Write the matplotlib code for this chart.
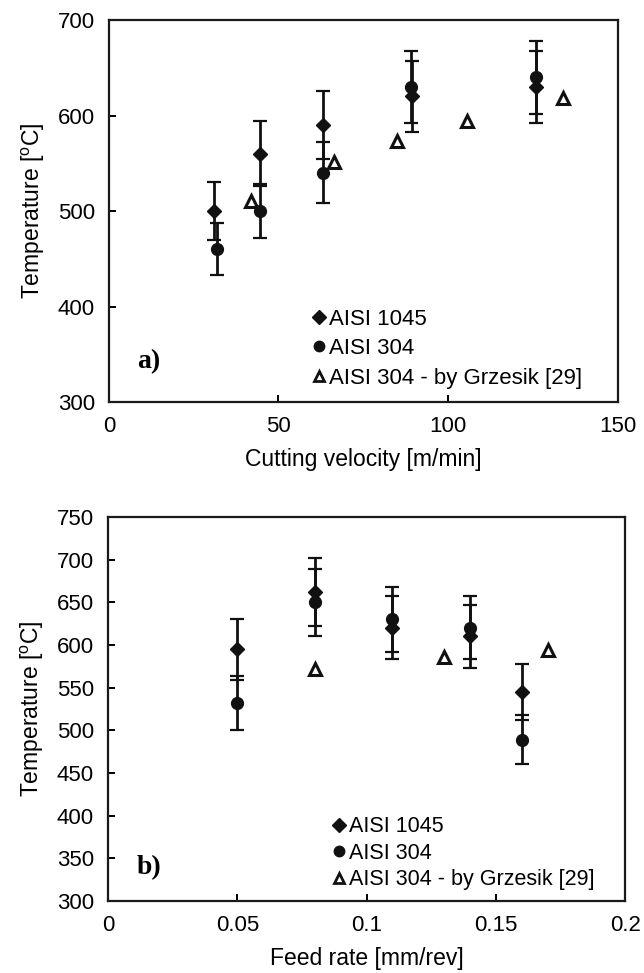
"""Cutting temperature vs cutting velocity (a) and feed rate (b)."""

import matplotlib.pyplot as plt
from matplotlib.lines import Line2D

plt.rcParams['font.family'] = ['Liberation Sans', 'DejaVu Sans']
plt.rcParams['mathtext.fontset'] = 'custom'
plt.rcParams['mathtext.rm'] = 'Liberation Sans'

# panel a) - cutting velocity [m/min]
vel_1045 = [31, 44.5, 63, 89.5, 126]
temp_1045_a = [500, 560, 590, 620, 630]
err_1045_a = [30, 34, 36, 37, 38]

vel_304 = [32, 44.5, 63, 89, 126]
temp_304_a = [460, 500, 540, 630, 640]
err_304_a = [27, 28, 32, 38, 38]

vel_grz = [42, 66.5, 85, 105.5, 134]
temp_grz_a = [510, 551, 573, 594, 618]

# panel b) - feed rate [mm/rev]
feed_1045 = [0.05, 0.08, 0.11, 0.14, 0.16]
temp_1045_b = [595, 662, 620, 610, 545]
err_1045_b = [36, 40, 37, 37, 33]

feed_304 = [0.05, 0.08, 0.11, 0.14, 0.16]
temp_304_b = [532, 650, 630, 620, 489]
err_304_b = [32, 39, 38, 37, 29]

feed_grz = [0.08, 0.13, 0.17]
temp_grz_b = [572, 586, 594]

legend_labels = ['AISI 1045', 'AISI 304', 'AISI 304 - by Grzesik [29]']


def style_axes(ax):
    for s in ax.spines.values():
        s.set_linewidth(1.6)
        s.set_color('#1a1a1a')
    ax.tick_params(direction='in', length=5, width=1.4, labelsize=16, pad=10,
                   top=False, right=False)


def draw_panel(ax, x1, y1, e1, x2, y2, e2, x3, y3):
    ebkw = dict(fmt='none', ecolor='#111111', elinewidth=2.0, capsize=5, capthick=1.6)
    ax.errorbar(x1, y1, yerr=e1, **ebkw)
    ax.errorbar(x2, y2, yerr=e2, **ebkw)
    ax.plot(x1, y1, 'D', color='#111111', ms=7.5, ls='none')
    ax.plot(x2, y2, 'o', color='#111111', ms=8.5, ls='none')
    ax.plot(x3, y3, '^', mfc='white', mec='#111111', mew=2.2, ms=8, ls='none')


def add_legend(ax, anchor, fs, spacing):
    handles = [
        Line2D([], [], marker='D', color='#111111', ls='none', ms=7),
        Line2D([], [], marker='o', color='#111111', ls='none', ms=7.5),
        Line2D([], [], marker='^', mfc='white', mec='#111111', mew=2, ls='none', ms=7),
    ]
    ax.legend(handles, legend_labels, loc='lower left', bbox_to_anchor=anchor,
              frameon=False, fontsize=fs, handlelength=0.5, handletextpad=0.2,
              labelspacing=spacing, borderpad=0, borderaxespad=0)


fig = plt.figure(figsize=(6.44, 9.73), dpi=100)

ax1 = fig.add_axes([0.169, 0.5868, 0.790, 0.3926])
draw_panel(ax1, vel_1045, temp_1045_a, err_1045_a, vel_304, temp_304_a, err_304_a,
           vel_grz, temp_grz_a)
ax1.set_xlim(0, 150)
ax1.set_ylim(300, 700)
ax1.set_xticks([0, 50, 100, 150])
ax1.set_yticks([300, 400, 500, 600, 700])
ax1.set_xlabel('Cutting velocity [m/min]', fontsize=16.5, labelpad=8)
ax1.set_ylabel(r'Temperature [$^{\rm o}$C]', fontsize=16.5, labelpad=8)
style_axes(ax1)
add_legend(ax1, (0.403, 0.035), 16, 0.38)
ax1.text(0.055, 0.105, 'a)', transform=ax1.transAxes, fontsize=20, fontweight='bold',
         family='Liberation Serif', ha='left', va='center')

ax2 = fig.add_axes([0.1677, 0.074, 0.803, 0.3947])
draw_panel(ax2, feed_1045, temp_1045_b, err_1045_b, feed_304, temp_304_b, err_304_b,
           feed_grz, temp_grz_b)
ax2.set_xlim(0, 0.2)
ax2.set_ylim(300, 750)
ax2.set_xticks([0, 0.05, 0.1, 0.15, 0.2])
ax2.set_xticklabels(['0', '0.05', '0.1', '0.15', '0.2'])
ax2.set_yticks(range(300, 751, 50))
ax2.set_xlabel('Feed rate [mm/rev]', fontsize=16.5, labelpad=8)
ax2.set_ylabel(r'Temperature [$^{\rm o}$C]', fontsize=16.5, labelpad=8)
style_axes(ax2)
add_legend(ax2, (0.436, 0.028), 15.5, 0.26)
ax2.text(0.055, 0.087, 'b)', transform=ax2.transAxes, fontsize=20, fontweight='bold',
         family='Liberation Serif', ha='left', va='center')

plt.savefig('out.png', dpi=100)
plt.close()
